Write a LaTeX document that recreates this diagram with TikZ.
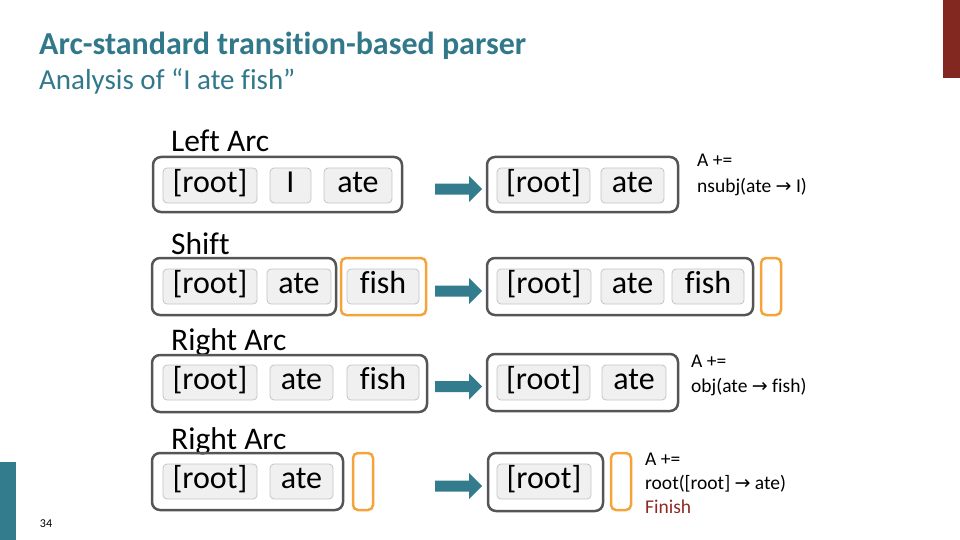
\documentclass[tikz,border=0pt]{standalone}
\usepackage{fontspec}
\setmainfont{Carlito}[Ligatures=NoCommon]
\newfontfamily\symfont{DejaVu Sans}
\definecolor{brandteal}{HTML}{31788A}
\definecolor{arrowteal}{HTML}{337C8E}
\definecolor{brandred}{HTML}{832820}
\definecolor{finishred}{HTML}{8B2A22}
\definecolor{boxgray}{HTML}{555555}
\definecolor{queueorange}{HTML}{F5A33A}
\definecolor{tokfill}{HTML}{F0F0F0}
\definecolor{tokline}{HTML}{C4C4C4}
\newcommand\tokbox[6]{\node[tok, minimum width={(#3-#2)*1pt}, minimum height={(#5-#4)*1pt}] (#1) at ({(#2+#3)/2},{(#4+#5)/2}) {#6};}
\newcommand\outerbox[6]{\node[#6, minimum width={(#3-#2)*1pt}, minimum height={(#5-#4)*1pt}] (#1) at ({(#2+#3)/2},{(#4+#5)/2}) {};}
\newcommand\flowarrow[1]{\fill[arrowteal] (#1) ++(0,-5.5) -- ++(34,0) -- ++(0,-7.5) -- ++(13,13) -- ++(-13,13) -- ++(0,-7.5) -- ++(-34,0) -- cycle;}
\newcommand\rarr{{\symfont\fontsize{19}{19}\selectfont →}}
\begin{document}
\begin{tikzpicture}[x=1pt,y=-1pt,
  tok/.style={draw=tokline, fill=tokfill, rounded corners=4pt, line width=0.8pt, inner sep=0pt,
    font=\fontsize{32}{32}\selectfont, text height=20pt, text depth=7pt},
  stackbox/.style={draw=boxgray, rounded corners=8pt, line width=2.5pt, inner sep=0pt},
  queuebox/.style={draw=queueorange, rounded corners=5pt, line width=2.5pt, inner sep=0pt},
  steplabel/.style={anchor=base west, inner sep=0pt, font=\fontsize{31.5}{31.5}\selectfont},
  note/.style={anchor=base west, inner sep=0pt, font=\fontsize{19.5}{19.5}\selectfont}]
\useasboundingbox (0,0) rectangle (960,540);
% decorations
\fill[brandred] (943,0) rectangle (960,78);
\fill[arrowteal] (0,462) rectangle (16,540);
\node[anchor=base, inner sep=0pt, font=\fontsize{12}{12}\selectfont] (pagenum) at (46,527) {34};
\node[anchor=base west, inner sep=0pt, text=brandteal, font=\fontsize{32}{32}\selectfont\bfseries] (title) at (39,55) {Arc-standard transition-based parser};
\node[anchor=base west, inner sep=0pt, text=brandteal, font=\fontsize{29}{29}\selectfont] (subtitle) at (39,90) {Analysis of “I ate fish”};
% Row 1
\node[steplabel] (lab1) at (171,152) {Left Arc};
\outerbox{s1}{153}{402}{157}{212}{stackbox}
\tokbox{s1a}{163}{257}{168}{203}{[root]}
\tokbox{s1b}{270}{311}{168}{203}{I}
\tokbox{s1c}{324}{392}{168}{203}{ate}
\coordinate (a1) at (435,189);
\flowarrow{a1}
\outerbox{r1}{487}{678}{157}{212}{stackbox}
\tokbox{r1a}{497}{590}{168}{203}{[root]}
\tokbox{r1b}{601}{664}{168}{203}{ate}
\node[note] (n1a) at (697,167) {A +=};
\node[note] (n1b) at (697,192) {nsubj(ate \rarr\ I)};
% Row 2
\node[steplabel] (lab2) at (171,254) {Shift};
\outerbox{s2}{152}{336}{258}{315}{stackbox}
\tokbox{s2a}{163}{257}{269}{304}{[root]}
\tokbox{s2b}{267}{331}{269}{304}{ate}
\outerbox{q2}{341}{426}{258}{315}{queuebox}
\tokbox{q2a}{347}{419}{269}{304}{fish}
\coordinate (a2) at (435,291);
\flowarrow{a2}
\outerbox{r2}{487}{753}{258}{315}{stackbox}
\tokbox{r2a}{497}{591}{269}{304}{[root]}
\tokbox{r2b}{601}{664}{269}{304}{ate}
\tokbox{r2c}{672}{744}{269}{304}{fish}
\outerbox{rq2}{761}{781}{258}{315}{queuebox}
% Row 3
\node[steplabel] (lab3) at (171,350) {Right Arc};
\outerbox{s3}{152}{427}{355}{412}{stackbox}
\tokbox{s3a}{163}{257}{365}{400}{[root]}
\tokbox{s3b}{270}{333}{365}{400}{ate}
\tokbox{s3c}{347}{419}{365}{400}{fish}
\coordinate (a3) at (435,386.5);
\flowarrow{a3}
\outerbox{r3}{487}{678}{354}{411}{stackbox}
\tokbox{r3a}{497}{590}{365}{400}{[root]}
\tokbox{r3b}{602}{666}{365}{400}{ate}
\node[note] (n3a) at (691,367) {A +=};
\node[note] (n3b) at (691,392) {obj(ate \rarr\ fish)};
% Row 4
\node[steplabel] (lab4) at (171,449) {Right Arc};
\outerbox{s4}{152}{343}{453}{510}{stackbox}
\tokbox{s4a}{163}{257}{464}{499}{[root]}
\tokbox{s4b}{270}{333}{464}{499}{ate}
\outerbox{q4}{353}{373}{453}{510}{queuebox}
\coordinate (a4) at (435,486);
\flowarrow{a4}
\outerbox{r4}{488}{603}{453}{511}{stackbox}
\tokbox{r4a}{497}{591}{464}{499}{[root]}
\outerbox{rq4}{611}{631}{453}{510}{queuebox}
\node[note] (n4a) at (645,465) {A +=};
\node[note] (n4b) at (645,489.5) {root([root] \rarr\ ate)};
\node[note, text=finishred] (n4c) at (645,513) {Finish};
\end{tikzpicture}
\end{document}
